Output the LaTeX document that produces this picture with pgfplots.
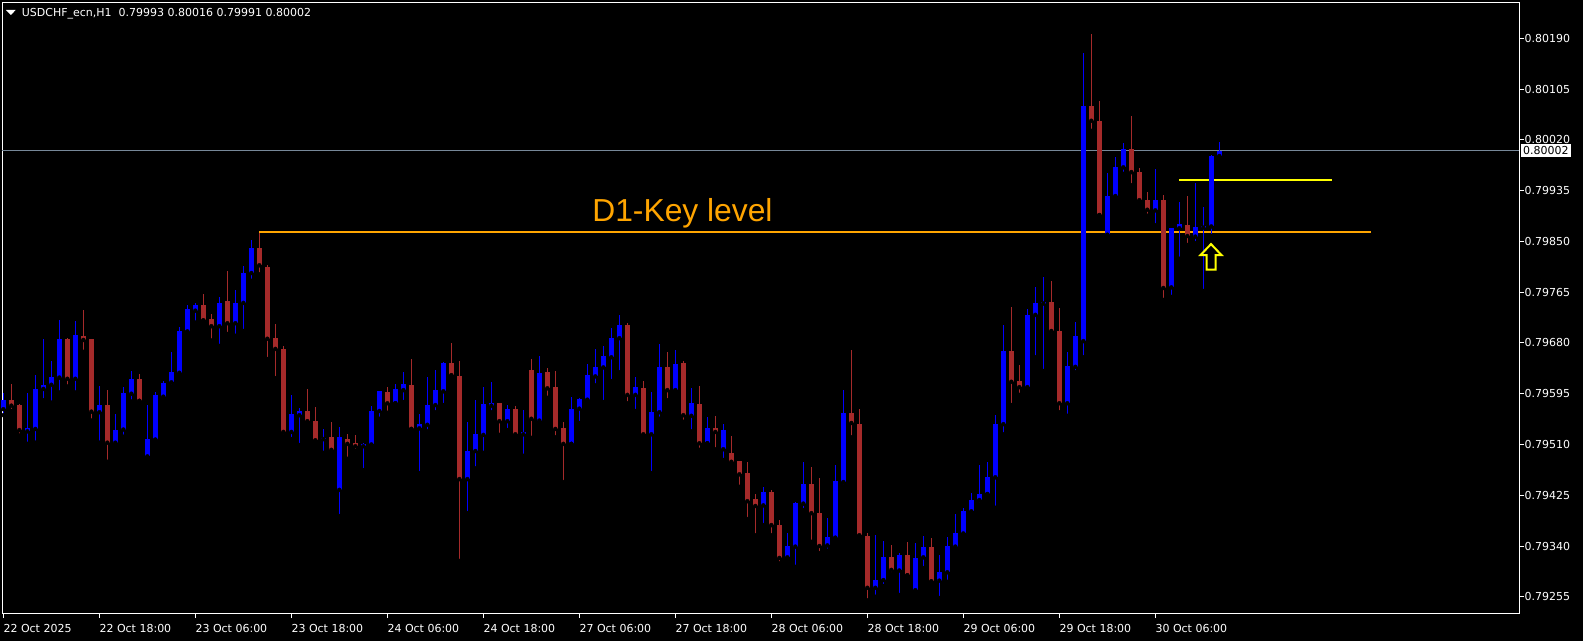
\documentclass[border=0pt]{standalone}
\usepackage{pgfplots}
\pgfplotsset{compat=1.18}
\usepackage{pgfplotstable}
\usepackage{fontspec}
\setmainfont{DejaVu Sans}
\newfontfamily\arialfont{Liberation Sans}
\definecolor{mtred}{RGB}{165,42,42}
\definecolor{mtblue}{RGB}{0,0,255}
\definecolor{mtorange}{RGB}{255,165,0}
\definecolor{mtgray}{RGB}{119,136,153}
\definecolor{mtyellow}{RGB}{255,255,0}

\pgfplotstableread{
i o h l c
0 0.79569 0.79596 0.79559 0.79584
1 0.79584 0.79612 0.79566 0.79575
2 0.79576 0.79578 0.79525 0.79534
3 0.79532 0.79597 0.79511 0.79538
4 0.79536 0.79626 0.79513 0.79603
5 0.79603 0.79686 0.79584 0.79610
6 0.79610 0.79650 0.79580 0.79623
7 0.79622 0.79718 0.79597 0.79687
8 0.79687 0.79689 0.79607 0.79620
9 0.79620 0.79717 0.79597 0.79693
10 0.79692 0.79735 0.79665 0.79685
11 0.79686 0.79687 0.79550 0.79565
12 0.79564 0.79608 0.79513 0.79576
13 0.79576 0.79601 0.79481 0.79513
14 0.79513 0.79561 0.79508 0.79534
15 0.79535 0.79606 0.79523 0.79596
16 0.79595 0.79633 0.79582 0.79620
17 0.79620 0.79628 0.79583 0.79583
18 0.79490 0.79576 0.79486 0.79519
19 0.79518 0.79598 0.79518 0.79593
20 0.79590 0.79616 0.79588 0.79613
21 0.79614 0.79665 0.79607 0.79631
22 0.79630 0.79706 0.79626 0.79700
23 0.79699 0.79744 0.79699 0.79737
24 0.79734 0.79747 0.79714 0.79744
25 0.79744 0.79762 0.79717 0.79718
26 0.79720 0.79728 0.79684 0.79708
27 0.79708 0.79757 0.79675 0.79747
28 0.79750 0.79800 0.79695 0.79713
29 0.79713 0.79769 0.79692 0.79747
30 0.79747 0.79809 0.79700 0.79797
31 0.79797 0.79852 0.79784 0.79839
32 0.79839 0.79864 0.79795 0.79810
33 0.79807 0.79810 0.79653 0.79687
34 0.79689 0.79712 0.79621 0.79670
35 0.79670 0.79675 0.79524 0.79531
36 0.79531 0.79593 0.79519 0.79561
37 0.79559 0.79571 0.79509 0.79566
38 0.79566 0.79603 0.79546 0.79549
39 0.79550 0.79573 0.79516 0.79517
40 0.79519 0.79536 0.79496 0.79521
41 0.79522 0.79548 0.79496 0.79501
42 0.79434 0.79539 0.79390 0.79522
43 0.79520 0.79527 0.79486 0.79511
44 0.79512 0.79526 0.79499 0.79507
45 0.79507 0.79512 0.79467 0.79510
46 0.79510 0.79574 0.79504 0.79566
47 0.79566 0.79599 0.79553 0.79599
48 0.79598 0.79606 0.79563 0.79579
49 0.79579 0.79611 0.79579 0.79603
50 0.79601 0.79631 0.79581 0.79611
51 0.79610 0.79653 0.79536 0.79536
52 0.79537 0.79561 0.79462 0.79544
53 0.79543 0.79623 0.79532 0.79576
54 0.79576 0.79635 0.79564 0.79601
55 0.79599 0.79648 0.79576 0.79646
56 0.79646 0.79680 0.79625 0.79626
57 0.79625 0.79650 0.79315 0.79452
58 0.79452 0.79548 0.79395 0.79499
59 0.79499 0.79584 0.79470 0.79527
60 0.79526 0.79606 0.79496 0.79578
61 0.79575 0.79615 0.79564 0.79580
62 0.79579 0.79580 0.79526 0.79549
63 0.79549 0.79576 0.79534 0.79569
64 0.79569 0.79574 0.79521 0.79527
65 0.79527 0.79568 0.79491 0.79531
66 0.79634 0.79653 0.79521 0.79553
67 0.79550 0.79658 0.79546 0.79630
68 0.79631 0.79638 0.79588 0.79604
69 0.79606 0.79633 0.79522 0.79536
70 0.79537 0.79548 0.79447 0.79511
71 0.79511 0.79589 0.79511 0.79569
72 0.79570 0.79588 0.79546 0.79586
73 0.79585 0.79645 0.79584 0.79626
74 0.79624 0.79670 0.79609 0.79640
75 0.79639 0.79675 0.79581 0.79658
76 0.79656 0.79705 0.79616 0.79688
77 0.79688 0.79727 0.79631 0.79710
78 0.79710 0.79713 0.79579 0.79593
79 0.79593 0.79623 0.79566 0.79606
80 0.79605 0.79616 0.79521 0.79527
81 0.79527 0.79598 0.79462 0.79564
82 0.79564 0.79678 0.79553 0.79640
83 0.79640 0.79665 0.79584 0.79601
84 0.79601 0.79668 0.79599 0.79645
85 0.79646 0.79650 0.79548 0.79559
86 0.79558 0.79605 0.79532 0.79579
87 0.79578 0.79608 0.79501 0.79512
88 0.79512 0.79556 0.79512 0.79538
89 0.79537 0.79558 0.79502 0.79531
90 0.79502 0.79544 0.79484 0.79534
91 0.79496 0.79524 0.79477 0.79481
92 0.79482 0.79482 0.79439 0.79460
93 0.79462 0.79481 0.79385 0.79415
94 0.79418 0.79427 0.79358 0.79407
95 0.79408 0.79439 0.79375 0.79430
96 0.79431 0.79434 0.79358 0.79375
97 0.79376 0.79383 0.79311 0.79320
98 0.79321 0.79362 0.79318 0.79340
99 0.79339 0.79414 0.79305 0.79412
100 0.79411 0.79481 0.79400 0.79444
101 0.79444 0.79472 0.79347 0.79395
102 0.79396 0.79454 0.79328 0.79340
103 0.79341 0.79387 0.79332 0.79355
104 0.79354 0.79476 0.79353 0.79449
105 0.79447 0.79601 0.79440 0.79563
106 0.79563 0.79668 0.79522 0.79546
107 0.79544 0.79569 0.79357 0.79358
108 0.79357 0.79362 0.79249 0.79270
109 0.79270 0.79358 0.79255 0.79283
110 0.79283 0.79348 0.79273 0.79321
111 0.79321 0.79342 0.79293 0.79300
112 0.79299 0.79328 0.79258 0.79325
113 0.79325 0.79347 0.79291 0.79291
114 0.79266 0.79345 0.79263 0.79320
115 0.79321 0.79357 0.79303 0.79338
116 0.79338 0.79353 0.79280 0.79281
117 0.79282 0.79325 0.79253 0.79296
118 0.79296 0.79355 0.79280 0.79340
119 0.79339 0.79393 0.79337 0.79362
120 0.79361 0.79404 0.79355 0.79398
121 0.79398 0.79429 0.79392 0.79417
122 0.79417 0.79476 0.79410 0.79427
123 0.79427 0.79481 0.79427 0.79455
124 0.79455 0.79559 0.79404 0.79544
125 0.79544 0.79710 0.79527 0.79666
126 0.79667 0.79740 0.79576 0.79615
127 0.79616 0.79643 0.79593 0.79606
128 0.79606 0.79737 0.79603 0.79727
129 0.79727 0.79774 0.79656 0.79747
130 0.79746 0.79790 0.79633 0.79749
131 0.79749 0.79784 0.79693 0.79700
132 0.79700 0.79739 0.79564 0.79579
133 0.79579 0.79665 0.79558 0.79641
134 0.79640 0.79715 0.79631 0.79692
135 0.79683 0.80166 0.79656 0.80077
136 0.80077 0.80197 0.80035 0.80052
137 0.80052 0.80085 0.79894 0.79894
138 0.79861 0.79965 0.79861 0.79926
139 0.79926 0.79991 0.79924 0.79975
140 0.79974 0.80015 0.79963 0.80005
141 0.80005 0.80060 0.79944 0.79966
142 0.79967 0.79973 0.79914 0.79919
143 0.79920 0.79933 0.79893 0.79903
144 0.79902 0.79971 0.79877 0.79919
145 0.79919 0.79928 0.79752 0.79772
146 0.79773 0.79872 0.79757 0.79872
147 0.79872 0.79916 0.79821 0.79879
148 0.79878 0.79926 0.79844 0.79859
149 0.79858 0.79948 0.79847 0.79874
150 0.79873 0.79908 0.79767 0.79876
151 0.79875 0.79995 0.79859 0.79993
152 0.79993 0.80016 0.79991 0.80002
}\candles

\begin{document}
\begin{tikzpicture}[x=1pt,y=1pt]
\useasboundingbox (0,0) rectangle (1583,641);
\fill[black] (0,0) rectangle (1583,641);
\begin{axis}[
  at={(2pt,27.5pt)}, anchor=south west,
  scale only axis, width=1517pt, height=611pt,
  xmin=-0.17, xmax=189.46, ymin=0.79227, ymax=0.80250,
  clip=false,
  axis line style={white, line width=1pt},
  tick style={white, line width=1pt},
  tick align=outside,
  major tick length=4.5pt,
  xtick pos=left, ytick pos=right,
  yticklabel pos=right,
  xtick={0,12,24,36,48,60,72,84,96,108,120,132,144},
  xticklabels={22 Oct 2025,22 Oct 18:00,23 Oct 06:00,23 Oct 18:00,24 Oct 06:00,24 Oct 18:00,27 Oct 06:00,27 Oct 18:00,28 Oct 06:00,28 Oct 18:00,29 Oct 06:00,29 Oct 18:00,30 Oct 06:00},
  ytick={0.79255,0.79340,0.79425,0.79510,0.79595,0.79680,0.79765,0.79850,0.79935,0.80020,0.80105,0.80190},
  yticklabels={0.79255,0.79340,0.79425,0.79510,0.79595,0.79680,0.79765,0.79850,0.79935,0.80020,0.80105,0.80190},
  ticklabel style={white, font=\fontsize{11}{13}\selectfont},
  xticklabel style={anchor=north west, inner sep=0pt, xshift=0pt, yshift=-6pt},
  yticklabel style={anchor=west, inner sep=0pt, xshift=1pt},
]
% bid line
\addplot[mtgray, line width=1pt, forget plot] coordinates {(-0.17,0.80002) (189.46,0.80002)};
% key level and yellow level
\addplot[mtorange, line width=2pt, forget plot] coordinates {(32,0.79865) (171,0.79865)};
\addplot[mtyellow, line width=2pt, forget plot] coordinates {(147,0.79952) (166.1,0.79952)};
% wicks
\addplot[only marks, mark=none, forget plot,
  restrict expr to domain={\thisrow{c}-\thisrow{o}}{0:1},
  error bars/.cd, y dir=plus, y explicit, error mark=none,
  error bar style={line width=1pt, color=mtblue}]
  table[x=i, y=l, y error expr=\thisrow{h}-\thisrow{l}] {\candles};
\addplot[only marks, mark=none, forget plot,
  restrict expr to domain={\thisrow{c}-\thisrow{o}}{-1:-0.000001},
  error bars/.cd, y dir=plus, y explicit, error mark=none,
  error bar style={line width=1pt, color=mtred}]
  table[x=i, y=l, y error expr=\thisrow{h}-\thisrow{l}] {\candles};
% bodies
\addplot[only marks, mark=none, forget plot,
  restrict expr to domain={\thisrow{c}-\thisrow{o}}{0:1},
  error bars/.cd, y dir=plus, y explicit, error mark=none,
  error bar style={line width=4.7pt, color=mtblue}]
  table[x=i, y expr={min(\thisrow{o},\thisrow{c})}, y error expr={max(abs(\thisrow{c}-\thisrow{o}),0.000017)}] {\candles};
\addplot[only marks, mark=none, forget plot,
  restrict expr to domain={\thisrow{c}-\thisrow{o}}{-1:-0.000001},
  error bars/.cd, y dir=plus, y explicit, error mark=none,
  error bar style={line width=4.7pt, color=mtred}]
  table[x=i, y expr={min(\thisrow{o},\thisrow{c})}, y error expr={max(abs(\thisrow{c}-\thisrow{o}),0.000017)}] {\candles};
% annotations
\node[anchor=base west, inner sep=0pt, text=mtorange, font=\arialfont\fontsize{31.8}{36}\selectfont] at (axis cs:73.6,0.79884) {D1-Key level};
\draw[mtyellow, line width=2pt, line join=miter] (axis cs:150.96,0.798455) -- ++(10.5pt,-11pt) -- ++(-6pt,0pt) -- ++(0pt,-14.5pt) -- ++(-9pt,0pt) -- ++(0pt,14.5pt) -- ++(-6pt,0pt) -- cycle;
\node[anchor=west, fill=white, text=black, inner xsep=2.5pt, inner ysep=2.5pt, xshift=1.5pt, font=\fontsize{11}{13}\selectfont] at (axis cs:189.46,0.80002) {0.80002};
\end{axis}
% chart header
\fill[white] (6,631) -- (15.7,631) -- (10.85,626) -- cycle;
\node[anchor=base west, inner sep=0pt, text=white, font=\fontsize{11}{13}\selectfont] at (21.7,624.3) {USDCHF\_ecn,H1\ \ 0.79993 0.80016 0.79991 0.80002};
\end{tikzpicture}
\end{document}
